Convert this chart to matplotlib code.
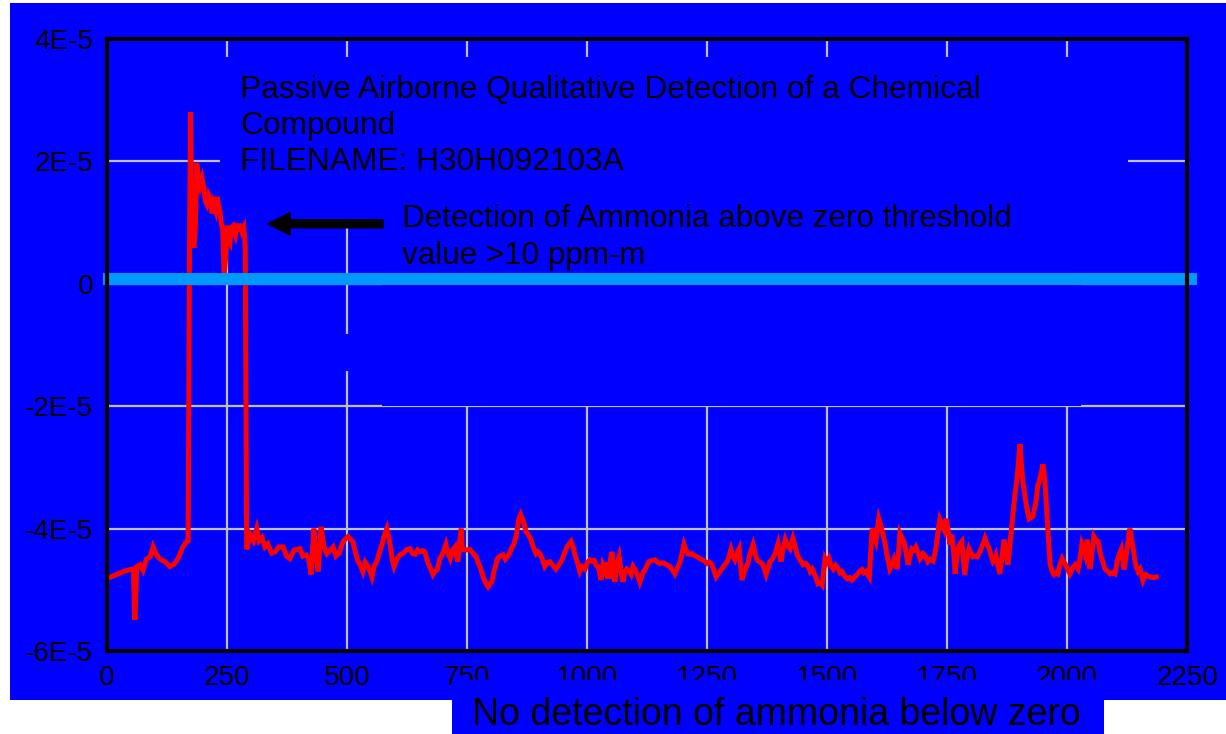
import numpy as np
import matplotlib.pyplot as plt
from matplotlib.patches import Rectangle

plt.rcParams['font.family'] = ['Liberation Sans', 'DejaVu Sans']

# sample index and signal (units of 1e-5)
sample = [8, 20, 35, 48, 55, 58, 62, 69, 75, 82, 90, 96, 100, 108, 115, 121, 131, 140, 148, 158,
          165, 169, 172, 174, 177, 181, 184, 187, 190, 194, 198, 202, 205, 208, 212, 215, 219, 222,
          226, 229, 232, 235, 238, 241, 244, 247, 250, 253, 256, 259, 263, 268, 272, 277, 281, 285,
          288, 291, 298, 305, 312, 317, 323, 329, 335, 343, 350, 358, 367, 374, 381, 390, 402, 408,
          415, 420, 425, 431, 436, 440, 446, 452, 458, 465, 471, 477, 483, 488, 492, 502, 508, 512,
          518, 523, 528, 533, 538, 544, 548, 552, 557, 562, 567, 573, 578, 583, 587, 590, 594, 598,
          604, 610, 617, 625, 631, 637, 642, 647, 652, 657, 662, 669, 674, 679, 683, 688, 693, 698,
          702, 706, 710, 715, 720, 725, 728, 731, 735, 738, 740, 742, 748, 756, 762, 769, 773, 777,
          781, 785, 790, 794, 798, 802, 806, 810, 813, 819, 825, 830, 835, 840, 844, 848, 852, 855,
          858, 862, 866, 870, 873, 878, 883, 888, 894, 898, 902, 907, 912, 918, 923, 929, 935, 941,
          948, 953, 958, 963, 967, 971, 975, 980, 985, 990, 996, 1001, 1006, 1010, 1015, 1019, 1023,
          1026, 1029, 1033, 1038, 1042, 1046, 1049, 1052, 1055, 1058, 1062, 1067, 1071, 1075, 1079,
          1083, 1088, 1092, 1096, 1100, 1105, 1110, 1115, 1121, 1125, 1129, 1135, 1142, 1147, 1152,
          1157, 1162, 1168, 1173, 1178, 1183, 1188, 1194, 1198, 1202, 1206, 1210, 1215, 1219, 1224,
          1229, 1235, 1240, 1245, 1250, 1255, 1260, 1265, 1269, 1275, 1281, 1286, 1292, 1296, 1300,
          1304, 1308, 1313, 1317, 1320, 1323, 1328, 1335, 1340, 1346, 1350, 1354, 1360, 1365, 1369,
          1373, 1377, 1381, 1386, 1392, 1398, 1401, 1404, 1408, 1413, 1418, 1423, 1429, 1434, 1438,
          1444, 1450, 1456, 1461, 1465, 1469, 1473, 1477, 1481, 1486, 1490, 1493, 1496, 1500, 1504,
          1508, 1513, 1518, 1523, 1527, 1531, 1537, 1542, 1547, 1552, 1557, 1563, 1568, 1573, 1577,
          1581, 1585, 1588, 1591, 1594, 1598, 1602, 1605, 1608, 1612, 1617, 1621, 1625, 1628, 1631,
          1635, 1640, 1643, 1646, 1649, 1652, 1656, 1660, 1665, 1669, 1673, 1677, 1681, 1685, 1690,
          1694, 1700, 1705, 1710, 1715, 1721, 1725, 1729, 1732, 1735, 1740, 1744, 1748, 1752, 1756,
          1760, 1764, 1767, 1770, 1773, 1777, 1781, 1784, 1787, 1791, 1796, 1800, 1804, 1808, 1813,
          1817, 1821, 1825, 1829, 1833, 1838, 1842, 1846, 1850, 1852, 1856, 1860, 1864, 1869, 1873,
          1877, 1880, 1883, 1887, 1890, 1893, 1896, 1899, 1902, 1905, 1908, 1912, 1916, 1921, 1925,
          1929, 1933, 1935, 1939, 1942, 1946, 1950, 1954, 1957, 1960, 1963, 1965, 1969, 1973, 1977,
          1981, 1985, 1990, 1994, 1998, 2002, 2006, 2011, 2017, 2023, 2027, 2031, 2035, 2038, 2042,
          2045, 2048, 2052, 2056, 2061, 2065, 2068, 2071, 2075, 2079, 2085, 2090, 2095, 2100, 2103,
          2106, 2110, 2113, 2116, 2119, 2122, 2125, 2128, 2131, 2135, 2138, 2141, 2144, 2148, 2152,
          2155, 2158, 2162, 2165, 2169, 2173, 2178, 2183, 2186]
signal = [-4.79, -4.75, -4.70, -4.67, -4.66, -5.49, -4.62, -4.59, -4.68, -4.50, -4.46, -4.30, -4.38,
          -4.48, -4.52, -4.54, -4.62, -4.58, -4.49, -4.30, -4.22, -4.20, 0.70, 2.80, 1.00, 0.59, 0.90,
          1.97, 1.75, 1.60, 1.72, 1.55, 1.35, 1.30, 1.45, 1.40, 1.15, 1.30, 1.20, 1.42, 1.30, 1.20,
          0.98, 0.90, 0.16, 0.40, 0.95, 0.70, 0.66, 0.92, 0.95, 0.80, 0.95, 0.95, 0.85, 0.92, 0.60,
          -4.34, -4.10, -4.20, -4.00, -4.20, -4.15, -4.30, -4.25, -4.40, -4.38, -4.30, -4.30, -4.45,
          -4.49, -4.35, -4.33, -4.45, -4.43, -4.50, -4.75, -4.00, -4.50, -4.70, -3.97, -4.30, -4.41,
          -4.35, -4.30, -4.45, -4.41, -4.30, -4.21, -4.13, -4.18, -4.21, -4.40, -4.54, -4.60, -4.70,
          -4.55, -4.62, -4.70, -4.79, -4.60, -4.54, -4.40, -4.26, -4.10, -4.00, -4.15, -4.26, -4.50,
          -4.62, -4.50, -4.43, -4.40, -4.34, -4.33, -4.41, -4.42, -4.35, -4.38, -4.36, -4.38, -4.57,
          -4.65, -4.75, -4.70, -4.67, -4.50, -4.43, -4.35, -4.26, -4.40, -4.49, -4.35, -4.30, -4.45,
          -4.54, -4.20, -4.00, -4.30, -4.34, -4.35, -4.34, -4.40, -4.46, -4.55, -4.62, -4.72, -4.82,
          -4.90, -4.95, -4.90, -4.87, -4.70, -4.60, -4.49, -4.45, -4.43, -4.50, -4.45, -4.38, -4.30,
          -4.25, -4.13, -4.00, -3.84, -3.77, -3.85, -3.95, -4.05, -4.10, -4.18, -4.30, -4.41, -4.38,
          -4.41, -4.50, -4.62, -4.55, -4.54, -4.60, -4.66, -4.60, -4.51, -4.40, -4.30, -4.25, -4.21,
          -4.30, -4.43, -4.55, -4.70, -4.62, -4.66, -4.55, -4.51, -4.53, -4.52, -4.60, -4.62, -4.70,
          -4.84, -4.60, -4.70, -4.55, -4.82, -4.50, -4.38, -4.60, -4.87, -4.60, -4.46, -4.70, -4.87,
          -4.70, -4.66, -4.70, -4.75, -4.62, -4.67, -4.75, -4.87, -4.75, -4.67, -4.60, -4.54, -4.52,
          -4.51, -4.55, -4.57, -4.56, -4.57, -4.60, -4.62, -4.68, -4.74, -4.65, -4.54, -4.40, -4.26,
          -4.35, -4.41, -4.42, -4.41, -4.44, -4.46, -4.49, -4.51, -4.53, -4.57, -4.55, -4.58, -4.70,
          -4.79, -4.72, -4.66, -4.60, -4.54, -4.45, -4.34, -4.45, -4.51, -4.40, -4.33, -4.60, -4.84,
          -4.70, -4.57, -4.40, -4.26, -4.40, -4.51, -4.55, -4.57, -4.65, -4.75, -4.65, -4.54, -4.50,
          -4.41, -4.25, -4.40, -4.54, -4.35, -4.18, -4.28, -4.33, -4.16, -4.30, -4.43, -4.51, -4.59,
          -4.57, -4.62, -4.70, -4.66, -4.73, -4.80, -4.90, -4.88, -4.92, -4.70, -4.49, -4.55, -4.49,
          -4.60, -4.66, -4.60, -4.65, -4.72, -4.70, -4.78, -4.82, -4.80, -4.84, -4.80, -4.75, -4.70,
          -4.67, -4.72, -4.70, -4.75, -4.79, -4.40, -4.00, -4.10, -4.20, -4.00, -3.84, -3.95, -4.10,
          -4.25, -4.43, -4.55, -4.66, -4.60, -4.49, -4.55, -4.66, -4.40, -4.08, -4.15, -4.21, -4.40,
          -4.59, -4.45, -4.33, -4.35, -4.30, -4.40, -4.49, -4.41, -4.45, -4.54, -4.50, -4.53, -4.40,
          -4.21, -4.00, -3.85, -3.95, -4.02, -3.84, -4.00, -4.26, -4.10, -4.40, -4.74, -4.50, -4.33,
          -4.25, -4.21, -4.50, -4.75, -4.50, -4.33, -4.40, -4.46, -4.45, -4.46, -4.40, -4.33, -4.25,
          -4.16, -4.25, -4.33, -4.45, -4.54, -4.50, -4.45, -4.60, -4.74, -4.50, -4.18, -4.40, -4.59,
          -4.35, -4.10, -3.80, -3.56, -3.35, -3.18, -2.90, -2.62, -2.95, -3.23, -3.44, -3.65, -3.84,
          -3.82, -3.80, -3.65, -3.59, -3.30, -3.23, -3.10, -2.95, -3.23, -3.60, -4.00, -4.35, -4.59,
          -4.70, -4.75, -4.72, -4.74, -4.60, -4.49, -4.55, -4.60, -4.68, -4.74, -4.65, -4.59, -4.66,
          -4.50, -4.26, -4.35, -4.43, -4.18, -4.40, -4.66, -4.40, -4.13, -4.20, -4.21, -4.35, -4.46,
          -4.55, -4.66, -4.70, -4.74, -4.72, -4.74, -4.60, -4.49, -4.40, -4.34, -4.50, -4.67, -4.50,
          -4.33, -4.15, -4.00, -4.20, -4.33, -4.50, -4.62, -4.70, -4.66, -4.75, -4.84, -4.75, -4.75,
          -4.78, -4.79, -4.80, -4.80, -4.79]

threshold = 0.08  # zero threshold line, 1e-5 units
x_ticks = [0, 250, 500, 750, 1000, 1250, 1500, 1750, 2000, 2250]
y_ticks = [-6, -4, -2, 0, 2, 4]
y_tick_labels = ['-6E-5', '-4E-5', '-2E-5', '0', '2E-5', '4E-5']

blue = '#0000ff'

fig = plt.figure(figsize=(12.26, 7.34), dpi=100)
fig.patch.set_facecolor('white')
# blue backdrop behind the plot
fig.add_artist(Rectangle((10 / 1226, 34 / 734), 1216 / 1226, 697 / 734,
                         transform=fig.transFigure, facecolor=blue, edgecolor='none', zorder=-1))

ax = fig.add_axes([107 / 1226, 83 / 734, 1080 / 1226, 612 / 734])
ax.set_facecolor(blue)

ax.plot(sample, np.array(signal), color='red', lw=3.6, zorder=3, solid_joinstyle='miter')

ax.set_xlim(0, 2250)
ax.set_ylim(-6, 4)
ax.set_xticks(x_ticks)
ax.set_yticks(y_ticks)
ax.set_yticklabels(y_tick_labels)
ax.tick_params(length=0, labelsize=20, colors='black')
ax.tick_params(axis='y', pad=10)
ax.tick_params(axis='x', pad=10)
ax.grid(True, color='#c0c0c0', lw=1.6, zorder=1)
for s in ax.spines.values():
    s.set_linewidth(3)
    s.set_color('black')
    s.set_zorder(5)

# text boxes hide part of the grid
for (x0, y0, x1, y1) in [(235, 0.92, 2127, 3.70), (573, -2.0, 2029, 1.40), (490, -1.43, 573, -0.82)]:
    ax.add_patch(Rectangle((x0, y0), x1 - x0, y1 - y0, facecolor=blue, edgecolor='none', zorder=2))

# threshold line sticks out past the frame
ax.plot([-8, 2271], [threshold, threshold], color='#0099ff', lw=8.6, zorder=4,
        solid_capstyle='butt', clip_on=False)

ax.text(277, 3.41, 'Passive Airborne Qualitative Detection of a Chemical\nCompound\nFILENAME: H30H092103A',
        fontsize=22.8, va='top', ha='left', linespacing=1.25, zorder=6)
ax.text(615, 1.30, 'Detection of Ammonia above zero threshold\nvalue >10 ppm-m',
        fontsize=22.6, va='top', ha='left', linespacing=1.28, zorder=6)
ax.annotate('', xy=(335, 0.98), xytext=(575, 0.98),
            arrowprops=dict(arrowstyle='simple,head_length=1.6,head_width=1.6,tail_width=0.58',
                            mutation_scale=10, color='black', shrinkA=0, shrinkB=0), zorder=6)

# caption box at the bottom
fig.add_artist(Rectangle((452 / 1226, 0), 652 / 1226, 54 / 734,
                         transform=fig.transFigure, facecolor=blue, edgecolor='none', zorder=2))
fig.text(472 / 1226, 9 / 734, 'No detection of ammonia below zero', fontsize=27,
         ha='left', va='baseline', color='black', zorder=3)

fig.savefig('out.png', dpi=100)
